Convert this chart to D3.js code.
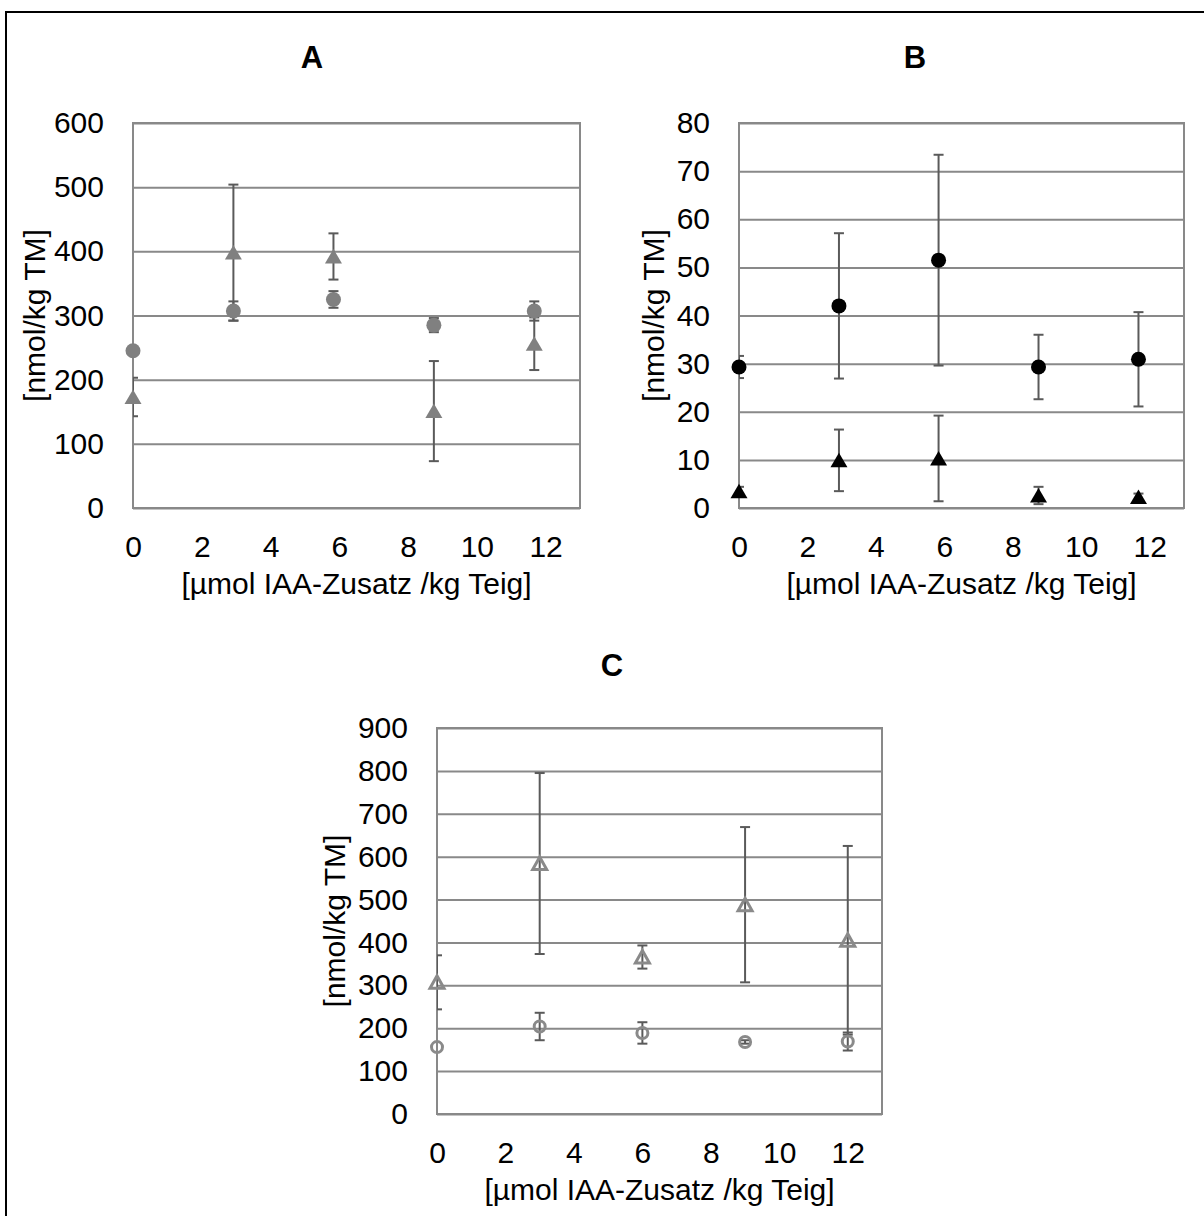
<!DOCTYPE html>
<html><head><meta charset="utf-8">
<script src="https://cdn.jsdelivr.net/npm/d3@7"></script>
<style>body{margin:0;background:#fff}text{font-family:Arial,"Liberation Sans",sans-serif;fill:#000}</style>
</head><body><svg id="c" width="1204" height="1216"></svg>
<script>
// ---- data ----
const panelTitles = ["A", "B", "C"];
const xTickLabels = [0, 2, 4, 6, 8, 10, 12];
const yTicksA = [0, 100, 200, 300, 400, 500, 600];
const yTicksB = [0, 10, 20, 30, 40, 50, 60, 70, 80];
const yTicksC = [0, 100, 200, 300, 400, 500, 600, 700, 800, 900];
const xAxisTitle = "[µmol IAA-Zusatz /kg Teig]";
const yAxisTitle = "[nmol/kg TM]";

const xAB = [0, 2.92, 5.83, 8.75, 11.67];
const aCircle = [245, 307, 325, 285, 307];
const aCircleErr = [4, 15, 13, 11, 15];
const aTriangle = [173, 398, 392, 151, 256];
const aTriangleErr = [30, 106, 36, 78, 41];

const bCircle = [29.3, 42.0, 51.5, 29.3, 30.9];
const bCircleErr = [2.3, 15.1, 21.9, 6.7, 9.8];
const bTriangle = [3.5, 9.9, 10.3, 2.6, 2.3];
const bTriangleErr = [0.9, 6.4, 8.9, 1.8, 0.7];

const xC = [0, 3, 6, 9, 12];
const cTriangle = [307, 584, 366, 488, 405];
const cTriangleErr = [63, 211, 27, 181, 220];
const cCircle = [156, 204, 189, 168, 169];
const cCircleErr = [0, 32, 25, 4, 21];

// ---- drawing ----
const svg = d3.select("#c");
const GRID = "#898989", ERR = "#5a5a5a";
const FS = 30;

// outer frame (top + left only visible)
svg.append("path").attr("d", "M6,1216 L6,12 L1204,12").attr("fill", "none")
  .attr("stroke", "#000").attr("stroke-width", 2);

function panel(cfg) {
  const x = d3.scaleLinear().domain([0, 13]).range([cfg.left, cfg.right]);
  const y = d3.scaleLinear().domain([0, cfg.yMax]).range([cfg.bottom, cfg.top]);
  const g = svg.append("g");
  const id = "clip" + cfg.title;
  svg.append("clipPath").attr("id", id).append("rect")
    .attr("x", cfg.left).attr("y", cfg.top - 40)
    .attr("width", cfg.right - cfg.left).attr("height", cfg.bottom - cfg.top + 80);

  // gridlines
  const yAxis = d3.axisLeft(y).tickValues(cfg.yTicks).tickSize(-(cfg.right - cfg.left)).tickFormat(d => d).tickPadding(29);
  const ga = g.append("g").attr("transform", `translate(${cfg.left},0)`).call(yAxis);
  ga.select(".domain").remove();
  ga.selectAll(".tick line").attr("stroke", GRID).attr("stroke-width", 2);
  ga.selectAll(".tick text").attr("font-size", FS).attr("fill", "#000")
    .attr("font-family", "Arial, 'Liberation Sans', sans-serif");

  // plot border
  g.append("rect").attr("x", cfg.left).attr("y", cfg.top)
    .attr("width", cfg.right - cfg.left).attr("height", cfg.bottom - cfg.top)
    .attr("fill", "none").attr("stroke", GRID).attr("stroke-width", 2);

  // x axis labels
  const xAxis = d3.axisBottom(x).tickValues(xTickLabels).tickSize(0).tickPadding(28).tickFormat(d => d);
  const gx = g.append("g").attr("transform", `translate(0,${cfg.bottom})`).call(xAxis);
  gx.select(".domain").remove();
  gx.selectAll(".tick text").attr("font-size", FS).attr("fill", "#000")
    .attr("font-family", "Arial, 'Liberation Sans', sans-serif");

  // titles
  g.append("text").attr("x", cfg.titleX).attr("y", cfg.titleY).attr("text-anchor", "middle")
    .attr("font-size", 31).attr("font-weight", "bold").text(cfg.title);
  g.append("text").attr("x", (cfg.left + cfg.right) / 2).attr("y", cfg.bottom + 86)
    .attr("text-anchor", "middle").attr("font-size", FS).text(xAxisTitle);
  g.append("text").attr("transform", `translate(${cfg.yTitleX},${(cfg.top + cfg.bottom) / 2}) rotate(-90)`)
    .attr("text-anchor", "middle").attr("font-size", FS).text(yAxisTitle);

  // series
  cfg.series.forEach(s => {
    const pts = s.xs.map((xv, i) => ({ x: xv, v: s.vals[i], e: s.errs[i] }));
    const eg = g.append("g").attr("clip-path", `url(#${id})`)
      .attr("stroke", ERR).attr("stroke-width", 2).attr("fill", "none");
    pts.forEach(p => {
      if (p.e <= 0) return;
      const px = x(p.x), y1 = y(p.v + p.e), y0 = y(p.v - p.e);
      eg.append("line").attr("x1", px).attr("x2", px).attr("y1", y1).attr("y2", y0);
      eg.append("line").attr("x1", px - 5).attr("x2", px + 5).attr("y1", y1).attr("y2", y1);
      eg.append("line").attr("x1", px - 5).attr("x2", px + 5).attr("y1", y0).attr("y2", y0);
    });
    const mg = g.append("g");
    pts.forEach(p => {
      const px = x(p.x), py = y(p.v);
      if (s.shape === "circle") {
        mg.append("circle").attr("cx", px).attr("cy", py).attr("r", s.open ? 5.5 : 7.5)
          .attr("fill", s.open ? "none" : s.color)
          .attr("stroke", s.color).attr("stroke-width", s.open ? 3 : 0);
      } else {
        const h = s.open ? 6.5 : 7.5, w = s.open ? 7 : 8.5;
        mg.append("path").attr("d", `M${px},${py - h} L${px + w},${py + h - 0.5} L${px - w},${py + h - 0.5} Z`)
          .attr("fill", s.open ? "none" : s.color)
          .attr("stroke", s.color).attr("stroke-width", s.open ? 3 : 0)
          .attr("stroke-linejoin", "miter");
      }
    });
  });
}

panel({
  title: panelTitles[0], titleX: 312, titleY: 68, left: 133, right: 580, top: 123, bottom: 508,
  yMax: 600, yTicks: yTicksA, yTitleX: 45,
  series: [
    { xs: xAB, vals: aTriangle, errs: aTriangleErr, shape: "triangle", color: "#808080" },
    { xs: xAB, vals: aCircle, errs: aCircleErr, shape: "circle", color: "#808080" }
  ]
});
panel({
  title: panelTitles[1], titleX: 915, titleY: 68, left: 739, right: 1184, top: 123, bottom: 508,
  yMax: 80, yTicks: yTicksB, yTitleX: 664,
  series: [
    { xs: xAB, vals: bTriangle, errs: bTriangleErr, shape: "triangle", color: "#000" },
    { xs: xAB, vals: bCircle, errs: bCircleErr, shape: "circle", color: "#000" }
  ]
});
panel({
  title: panelTitles[2], titleX: 612, titleY: 676, left: 437, right: 882, top: 728, bottom: 1114,
  yMax: 900, yTicks: yTicksC, yTitleX: 345,
  series: [
    { xs: xC, vals: cTriangle, errs: cTriangleErr, shape: "triangle", color: "#8a8a8a", open: true },
    { xs: xC, vals: cCircle, errs: cCircleErr, shape: "circle", color: "#8a8a8a", open: true }
  ]
});
</script></body></html>
